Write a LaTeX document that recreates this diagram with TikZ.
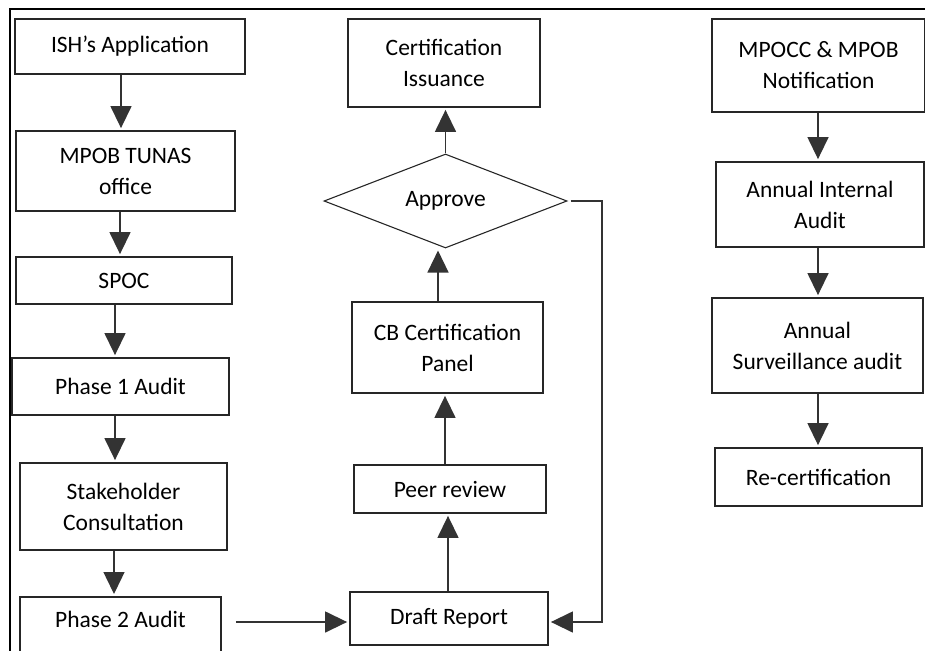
\documentclass[tikz,border=0pt]{standalone}
\usepackage{fontspec}
\setmainfont{Carlito}
\usetikzlibrary{arrows.meta,shapes.geometric}
\begin{document}
\begin{tikzpicture}[x=1pt,y=-1pt,
  box/.style={draw=black!85,line width=1.8pt,inner sep=0pt,align=center,
    font=\fontsize{23.5}{31}\selectfont},
  dia/.style={draw=black!85,line width=1.1pt,shape=diamond,aspect=2.6,inner sep=0pt,
    font=\fontsize{23.5}{31}\selectfont},
  arr/.style={draw=black!80,line width=1.4pt,-{Triangle[width=21pt,length=22pt]},shorten >=2pt},
  frameline/.style={draw=black,line width=2pt}]
\useasboundingbox (0,0) rectangle (925,650);
% frame
\draw[frameline] (925,9) -- (10,9) -- (10,660);
% left column
\node[box,minimum width=230pt,minimum height=55pt] (ish) at (130,46.5) {ISH’s Application};
\node[box,minimum width=219pt,minimum height=80pt] (tunas) at (125.5,171) {MPOB TUNAS\\office};
\node[box,minimum width=216pt,minimum height=47pt] (spoc) at (124,280.5) {SPOC};
\node[box,minimum width=217pt,minimum height=57pt] (p1) at (120.5,386.5) {Phase 1 Audit};
\node[box,minimum width=207pt,minimum height=87pt] (stake) at (123.5,506.5) {Stakeholder\\Consultation};
\node[box,minimum width=201pt,anchor=north,text height=31pt,text depth=40pt] (p2) at (120.5,596) {Phase 2 Audit};
% middle column
\node[box,minimum width=192pt,minimum height=88pt] (cert) at (444,63) {Certification\\Issuance};
\node[dia,minimum width=243pt,minimum height=94pt] (approve) at (445.5,201) {Approve};
\node[box,minimum width=191pt,minimum height=91pt] (cb) at (447.5,347.5) {CB Certification\\Panel};
\node[box,minimum width=192pt,minimum height=48pt] (peer) at (450,489) {Peer review};
\node[box,minimum width=198pt,minimum height=53pt] (draft) at (449,618.5) {Draft Report};
% right column
\node[box,minimum width=213pt,minimum height=93pt] (mpocc) at (818.5,65.5) {MPOCC \& MPOB\\Notification};
\node[box,minimum width=208pt,minimum height=85pt] (internal) at (820,204.5) {Annual Internal\\Audit};
\node[box,minimum width=211pt,minimum height=95pt] (surv) at (817.5,345.5) {Annual\\Surveillance audit};
\node[box,minimum width=207pt,minimum height=58pt] (recert) at (818.5,477) {Re-certification};
% helper coordinates
\coordinate (loop) at (602,622);
% left column arrows
\draw[arr] (ish.south -| 121,0) -- (tunas.north -| 121,0);
\draw[arr] (tunas.south -| 120,0) -- (spoc.north -| 120,0);
\draw[arr] (spoc.south -| 115,0) -- (p1.north -| 115,0);
\draw[arr] (p1.south -| 115,0) -- (stake.north -| 115,0);
\draw[arr] (stake.south -| 114,0) -- (p2.north -| 114,0);
\draw[arr,shorten <=14pt] (p2.east |- loop) -- (draft.west |- loop);
% middle column arrows
\draw[arr] (draft.north -| 448,0) -- (peer.south -| 448,0);
\draw[arr] (peer.north -| 445,0) -- (cb.south -| 445,0);
\draw[arr] (cb.north -| 438,0) -- (approve.south -| 438,0);
\draw[arr] (approve.north) -- (cert.south -| approve.north);
\draw[arr,shorten <=3pt] (approve.east) -| (loop) -- (draft.east |- loop);
% right column arrows
\draw[arr] (mpocc.south -| 818,0) -- (internal.north -| 818,0);
\draw[arr] (internal.south -| 818,0) -- (surv.north -| 818,0);
\draw[arr] (surv.south -| 818,0) -- (recert.north -| 818,0);
\end{tikzpicture}
\end{document}
